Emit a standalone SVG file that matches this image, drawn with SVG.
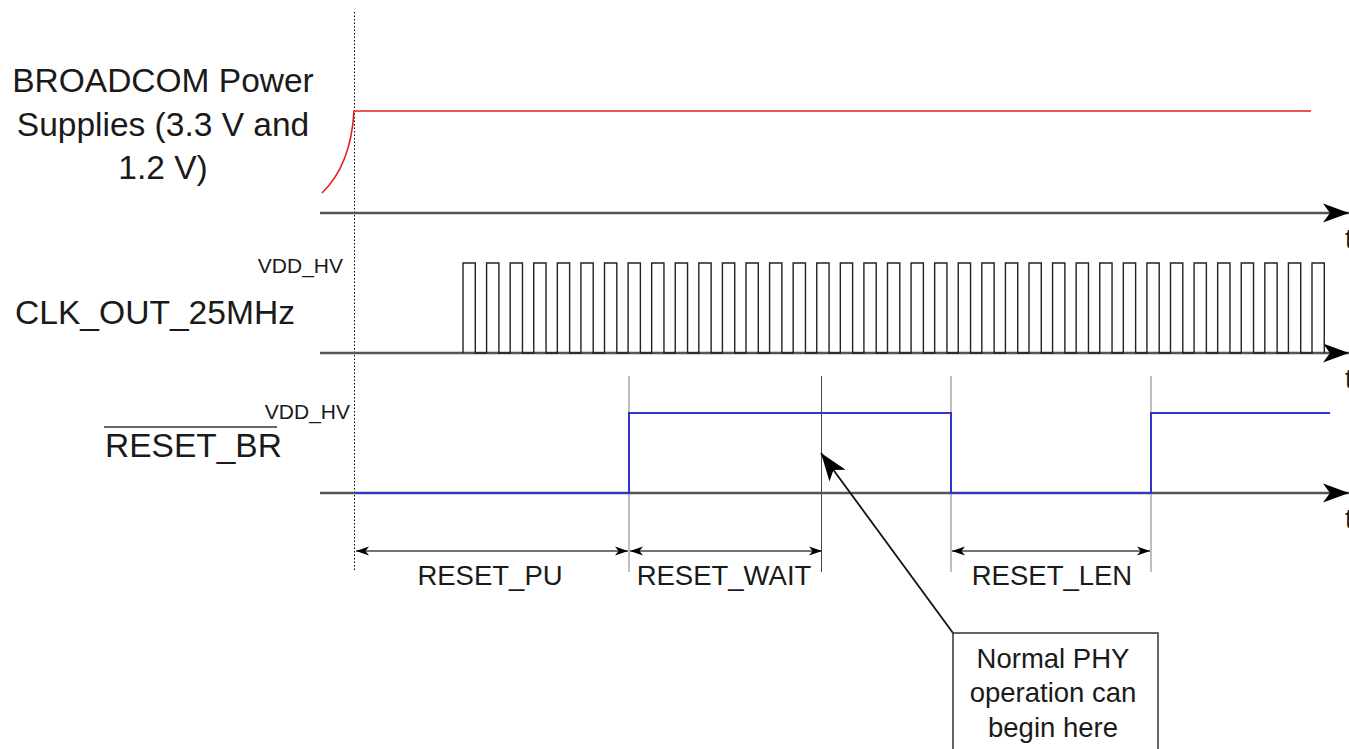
<svg xmlns="http://www.w3.org/2000/svg" width="1349" height="749" viewBox="0 0 1349 749">
<style>
text{font-family:"Liberation Sans",Arial,sans-serif;fill:#1a1a1a}
.big{font-size:33.5px}
.lab{font-size:27.5px}
.small{font-size:21px}
.axis{stroke:#555;stroke-width:2.5;fill:none}
.guide{stroke:#aaa;stroke-width:1.5;fill:none}
.dim{stroke:#444;stroke-width:1.5;fill:none;marker-start:url(#dimS);marker-end:url(#dimE)}
</style>
<defs>
<marker id="axArrow" markerUnits="userSpaceOnUse" markerWidth="30" markerHeight="24" refX="26" refY="10" orient="auto" overflow="visible">
<path d="M26,10 L0,0.5 L7,10 L0,19.5 Z" fill="#000"/>
</marker>
<marker id="dimE" markerUnits="userSpaceOnUse" markerWidth="16" markerHeight="12" refX="13" refY="5" orient="auto" overflow="visible">
<path d="M13,5 L0,0.5 L3.5,5 L0,9.5 Z" fill="#000"/>
</marker>
<marker id="dimS" markerUnits="userSpaceOnUse" markerWidth="16" markerHeight="12" refX="0" refY="5" orient="auto" overflow="visible">
<path d="M0,5 L13,0.5 L9.5,5 L13,9.5 Z" fill="#000"/>
</marker>
<marker id="leadArrow" markerUnits="userSpaceOnUse" markerWidth="32" markerHeight="24" refX="28" refY="10" orient="auto" overflow="visible">
<path d="M28,10 L0,0 L7,10 L0,20 Z" fill="#000"/>
</marker>
</defs>

<g id="labels">
<text class="big" x="163" y="92" text-anchor="middle">BROADCOM Power</text>
<text class="big" x="163" y="136" text-anchor="middle">Supplies (3.3 V and</text>
<text class="big" x="163" y="179" text-anchor="middle">1.2 V)</text>
<text class="big" x="15" y="324" textLength="280" lengthAdjust="spacingAndGlyphs">CLK_OUT_25MHz</text>
<text class="small" x="343" y="273" text-anchor="end">VDD_HV</text>
<text class="big" x="105" y="457">RESET_BR</text>
<line x1="104" y1="427" x2="277" y2="427" stroke="#333" stroke-width="1.5"/>
<text class="small" x="350" y="419" text-anchor="end">VDD_HV</text>
<text class="lab" x="1345" y="248">t</text>
<text class="lab" x="1345" y="388">t</text>
<text class="lab" x="1345" y="528">t</text>
</g>

<g id="guides">
<line x1="354.5" y1="12" x2="354.5" y2="570" stroke="#000" stroke-width="1" stroke-dasharray="1.5,2"/>
<line class="guide" x1="629" y1="376" x2="629" y2="572"/>
<line class="guide" x1="951" y1="376" x2="951" y2="572"/>
<line class="guide" x1="1151" y1="376" x2="1151" y2="572"/>
<line x1="821.5" y1="376" x2="821.5" y2="572" stroke="#444" stroke-width="1"/>
</g>

<g id="connectors">
<line class="axis" x1="320" y1="213" x2="1349" y2="213" marker-end="url(#axArrow)"/>
<line class="axis" x1="320" y1="353" x2="1349" y2="353" marker-end="url(#axArrow)"/>
<line class="axis" x1="320" y1="493" x2="1349" y2="493" marker-end="url(#axArrow)"/>
<line class="dim" x1="356" y1="551" x2="628" y2="551"/>
<line class="dim" x1="630" y1="551" x2="822" y2="551"/>
<line class="dim" x1="952" y1="551" x2="1150" y2="551"/>
<line x1="953" y1="633" x2="821" y2="453" stroke="#111" stroke-width="1.8" marker-end="url(#leadArrow)"/>
</g>

<g id="power-signal">
<path d="M322,193 Q351,165 354,111 L1311,111" fill="none" stroke="#e02020" stroke-width="1.6"/>
</g>

<g id="clk-signal">
<path fill="none" stroke="#222" stroke-width="1.4" d="M463,353
v-90 h12.3 v90 h11.283 v-90 h12.3 v90 h11.283 v-90 h12.3 v90 h11.283 v-90 h12.3 v90 h11.283
v-90 h12.3 v90 h11.283 v-90 h12.3 v90 h11.283 v-90 h12.3 v90 h11.283 v-90 h12.3 v90 h11.283
v-90 h12.3 v90 h11.283 v-90 h12.3 v90 h11.283 v-90 h12.3 v90 h11.283 v-90 h12.3 v90 h11.283
v-90 h12.3 v90 h11.283 v-90 h12.3 v90 h11.283 v-90 h12.3 v90 h11.283 v-90 h12.3 v90 h11.283
v-90 h12.3 v90 h11.283 v-90 h12.3 v90 h11.283 v-90 h12.3 v90 h11.283 v-90 h12.3 v90 h11.283
v-90 h12.3 v90 h11.283 v-90 h12.3 v90 h11.283 v-90 h12.3 v90 h11.283 v-90 h12.3 v90 h11.283
v-90 h12.3 v90 h11.283 v-90 h12.3 v90 h11.283 v-90 h12.3 v90 h11.283 v-90 h12.3 v90 h11.283
v-90 h12.3 v90 h11.283 v-90 h12.3 v90 h11.283 v-90 h12.3 v90 h11.283 v-90 h12.3 v90 h11.283
v-90 h12.3 v90 h11.283 v-90 h12.3 v90 h11.283 v-90 h12.3 v90 h11.283 v-90 h12.3 v90 h11.283
v-90 h12.3 v90"/>
</g>

<g id="reset-signal">
<path d="M355,493 H629 V413 H951 V493 H1151 V413 H1330" fill="none" stroke="#3333cc" stroke-width="2"/>
</g>

<g id="dim-labels">
<text class="lab" x="490" y="585" text-anchor="middle">RESET_PU</text>
<text class="lab" x="724" y="585" text-anchor="middle">RESET_WAIT</text>
<text class="lab" x="1052" y="585" text-anchor="middle">RESET_LEN</text>
</g>

<g id="callout">
<rect x="953" y="633" width="205" height="130" fill="#fff" stroke="#333" stroke-width="1.5"/>
<text class="lab" x="1053" y="668" text-anchor="middle">Normal PHY</text>
<text class="lab" x="1053" y="702" text-anchor="middle">operation can</text>
<text class="lab" x="1053" y="737" text-anchor="middle">begin here</text>
</g>
</svg>
